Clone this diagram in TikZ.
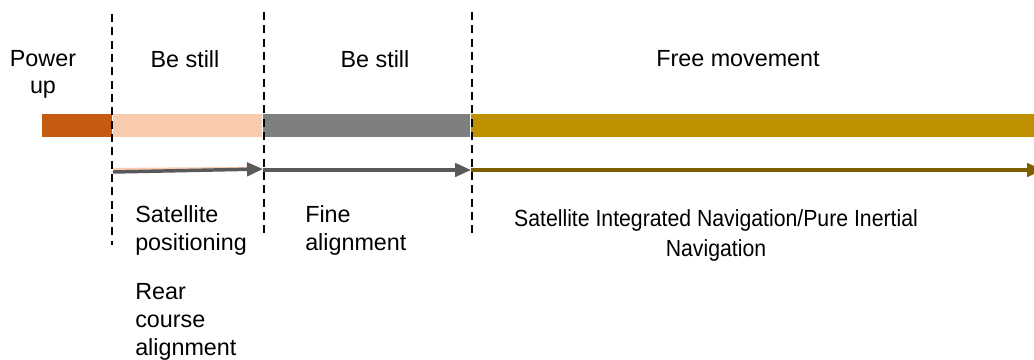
\documentclass[tikz,border=0pt]{standalone}
\usepackage{fontspec}
\setmainfont{Liberation Sans}
\usetikzlibrary{arrows.meta}
\definecolor{pwr}{HTML}{C55A11}
\definecolor{peach}{HTML}{F8CBAD}
\definecolor{midgray}{HTML}{7F7F7F}
\definecolor{gold}{HTML}{BF9000}
\definecolor{darkgold}{HTML}{7F6000}
\definecolor{arrgray}{HTML}{595959}
\begin{document}
\begin{tikzpicture}[x=0.75pt,y=-0.75pt,
  lbl/.style={font=\fontsize{17.5pt}{21pt}\selectfont, inner sep=0pt},
  lblL/.style={lbl, align=left, anchor=north west},
  lblC/.style={lbl, align=center, anchor=north},
  divider/.style={black, line width=1.7pt, dash pattern=on 6pt off 4pt},
  phasearrow/.style={line width=2.6pt, -{Triangle[length=12pt,width=10pt]}}]
\useasboundingbox (0,0) rectangle (1034,360);
% bars
\fill[pwr] (42,114) rectangle (112,137);
\fill[peach] (113,114) rectangle (262,137);
\fill[midgray] (263,114) rectangle (470,137);
\fill[gold] (471,114) rectangle (1034,137);
% coordinates
\coordinate (a0) at (113,172);
\coordinate (a1) at (263,169);
\coordinate (a1b) at (263,170);
\coordinate (a2) at (471,170);
\coordinate (a3) at (1043,170);
% arrows
\draw[peach, line width=2.4pt] (113,169.5) -- (250,168.5);
\draw[phasearrow, arrgray] (a0) -- (a1);
\draw[phasearrow, arrgray] (a1b) -- (a2);
\draw[phasearrow, darkgold] (a2) -- (a3);
% dividers
\coordinate (d1t) at (112,14); \coordinate (d1b) at (112,245);
\coordinate (d2t) at (264,12); \coordinate (d2b) at (264,234);
\coordinate (d3t) at (472,12); \coordinate (d3b) at (472,234);
\draw[divider] (d1t) -- (d1b);
\draw[divider] (d2t) -- (d2b);
\draw[divider] (d3t) -- (d3b);
% labels
\node[lblC, font=\fontsize{17.5pt}{20.5pt}\selectfont] (pu) at (43,50) {Power\\up};
\node[lblC] (bs1) at (185,50) {Be still};
\node[lblC] (bs2) at (375,50) {Be still};
\node[lblC] (fm) at (738,50) {Free movement};
\node[lblL] (sp) at (135,205) {Satellite\\positioning};
\node[lblL] (rc) at (135,283) {Rear\\course\\alignment};
\node[lblL] (fa) at (305,205) {Fine\\alignment};
\node[lblC, font=\fontsize{17.5pt}{22.5pt}\selectfont, xscale=0.91, transform shape] (sin) at (716,209) {Satellite Integrated Navigation/Pure Inertial\\Navigation};
\end{tikzpicture}
\end{document}
